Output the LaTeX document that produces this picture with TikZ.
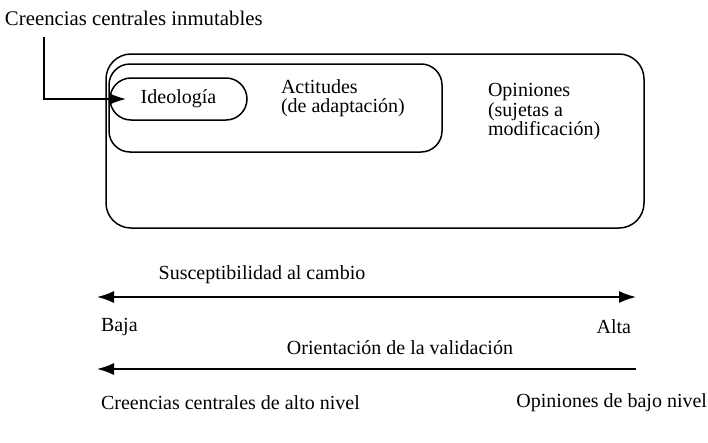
\documentclass[tikz,border=0pt]{standalone}
\usepackage{fontspec}
\setmainfont{Liberation Serif}
\usetikzlibrary{arrows.meta}
\begin{document}
\begin{tikzpicture}[x=1pt,y=-1pt,
  every node/.style={inner sep=0pt, outer sep=0pt, font=\fontsize{20}{19.5}\selectfont},
  boxshape/.style={draw, line width=1.5pt},
  lbl/.style={align=left},
  arr/.style={line width=1.6pt},
  >={Latex[length=17pt,width=12pt]}
]
\useasboundingbox (0,0) rectangle (708,442);
% boxes
\node[boxshape, rounded corners=25pt, minimum width=538pt, minimum height=174pt] (outer) at (375,141) {};
\node[boxshape, rounded corners=21pt, minimum width=333pt, minimum height=88pt] (act) at (275.5,108) {};
\node[boxshape, rounded corners=21pt, minimum width=137pt, minimum height=42pt] (ideo) at (178.5,99) {Ideología};
% texts in boxes
\node[lbl, anchor=west, font=\fontsize{20}{18.5}\selectfont] (acttxt) at (281,98) {Actitudes\\(de adaptación)};
\node[lbl, anchor=west] (optxt) at (488,112) {Opiniones\\(sujetas a\\modificación)};
% title and leader
\node[anchor=base west, font=\fontsize{20.8}{24}\selectfont] (title) at (5,25) {Creencias centrales inmutables};
\coordinate (lead) at (44,37);
\draw[arr, ->] (lead) |- ([xshift=16pt]ideo.west);
% scale 1
\node (sus) at (262,275) {Susceptibilidad al cambio};
\coordinate (a1l) at (97,297);
\coordinate (a1r) at (636,297);
\draw[arr, <->] (a1l) -- (a1r);
\node[anchor=west] (baja) at (101,327) {Baja};
\node[anchor=east] (alta) at (631,327) {Alta};
% scale 2
\node (ori) at (400,348) {Orientación de la validación};
\coordinate (a2l) at (97,369);
\coordinate (a2r) at (636,369);
\draw[arr, <-] (a2l) -- (a2r);
\node[anchor=west] (altonivel) at (101,403) {Creencias centrales de alto nivel};
\node[anchor=east] (bajonivel) at (707,403) {Opiniones de bajo nivel};
\end{tikzpicture}
\end{document}
